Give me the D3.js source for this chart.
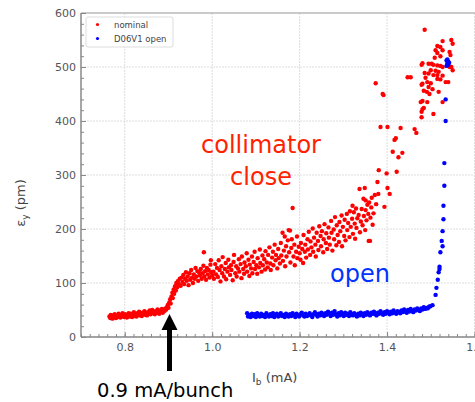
<!DOCTYPE html>
<html><head><meta charset="utf-8">
<script src="https://cdn.jsdelivr.net/npm/d3@7"></script>
<style>body{margin:0;background:#fff;}svg{display:block;font-family:"DejaVu Sans",sans-serif;}</style>
</head><body>
<svg id="c" width="475" height="402"></svg>
<script>
const xTicks = [0.8, 1.0, 1.2, 1.4, 1.6];
const yTicks = [0, 100, 200, 300, 400, 500, 600];
const seriesNames = ["nominal", "D06V1 open"];

const nominal = [
[0.765,38],[0.767,35],[0.768,41],[0.770,37],[0.772,34],[0.773,40],[0.775,36],[0.777,42],[0.779,38],[0.780,35],[0.782,40],[0.784,37],[0.786,43],[0.788,39],[0.790,36],[0.791,41],[0.793,38],[0.795,44],[0.797,40],[0.799,37],[0.801,42],[0.803,39],[0.805,36],[0.807,41],[0.809,44],[0.811,38],[0.813,40],[0.815,43],[0.817,37],[0.819,41],[0.821,46],[0.823,39],[0.825,42],[0.827,38],[0.829,44],[0.831,41],[0.833,47],[0.835,40],[0.837,43],[0.839,39],[0.841,45],[0.843,42],[0.845,48],[0.847,41],[0.849,44],[0.851,40],[0.853,46],[0.855,43],[0.857,49],[0.859,42],[0.861,45],[0.863,50],[0.865,44],[0.867,47],[0.869,42],[0.871,48],[0.873,45],[0.875,51],[0.877,46],[0.879,43],[0.881,49],[0.883,47],[0.885,52],[0.887,45],[0.889,50],[0.891,48],[0.893,53],[0.895,51],
[0.897,56],[0.899,60],[0.900,54],[0.902,64],[0.904,70],[0.905,62],[0.907,75],[0.909,82],[0.910,72],[0.912,88],[0.913,80],[0.915,94],[0.917,86],[0.918,100],[0.920,92],[0.922,104],[0.924,98],[0.926,108],[0.928,95],[0.930,110],
[0.932,102],[0.934,115],[0.936,98],[0.938,108],[0.940,120],[0.942,104],[0.944,112],[0.946,96],[0.948,118],[0.950,106],[0.952,124],[0.954,110],[0.956,100],[0.958,116],[0.960,108],[0.962,128],[0.964,112],[0.966,122],[0.968,104],[0.970,120],[0.972,114],[0.974,126],[0.976,108],[0.978,118],[0.980,132],[0.981,157],[0.982,112],[0.984,122],[0.986,106],[0.988,128],[0.990,116],[0.992,124],[0.994,110],[0.996,134],[0.997,142],[0.998,120],[1.000,114],
[1.003,121],[1.004,108],[1.007,135],[1.009,116],[1.011,128],[1.013,111],[1.015,142],[1.017,124],[1.019,103],[1.021,131],[1.023,118],[1.024,148],[1.027,112],[1.029,126],[1.031,137],[1.032,107],[1.035,121],[1.037,143],[1.038,129],[1.041,115],[1.043,133],[1.044,124],[1.047,105],[1.049,139],[1.050,152],[1.053,118],[1.055,131],[1.056,112],[1.059,127],[1.061,144],[1.062,121],[1.065,135],[1.067,109],[1.068,149],[1.071,126],[1.073,117],[1.074,138],[1.077,131],[1.079,155],[1.080,121],[1.083,143],[1.085,113],[1.086,134],[1.089,127],[1.091,149],[1.092,118],[1.095,139],[1.097,158],[1.098,126],[1.101,133],[1.103,117],[1.104,146],[1.107,129],[1.109,162],[1.110,137],[1.113,121],[1.115,151],[1.116,133],[1.119,144],[1.121,125],[1.122,159],[1.125,138],[1.127,129],[1.128,152],[1.131,166],[1.133,136],[1.134,124],[1.137,147],[1.139,158],[1.140,133],[1.143,171],[1.145,142],[1.146,152],[1.149,127],[1.151,163],[1.152,146],[1.155,136],[1.157,174],[1.158,151],[1.161,193],[1.162,141],[1.164,160],[1.166,186],[1.167,131],[1.169,168],[1.170,149],[1.173,179],[1.175,198],[1.176,157],[1.178,197],[1.179,138],[1.181,165],[1.182,181],[1.184,239],[1.186,149],[1.188,171],[1.189,133],[1.192,158],[1.194,186],[1.195,146],[1.198,167],[1.200,155],
[1.202,143],[1.203,174],[1.206,163],[1.208,137],[1.209,189],[1.212,158],[1.213,171],[1.215,147],[1.218,181],[1.219,162],[1.221,195],[1.224,152],[1.225,177],[1.227,166],[1.230,201],[1.231,158],[1.233,184],[1.236,171],[1.237,149],[1.239,193],[1.242,178],[1.243,161],[1.245,205],[1.248,187],[1.249,168],[1.251,196],[1.254,157],[1.255,181],[1.257,209],[1.260,174],[1.261,192],[1.263,163],[1.266,203],[1.267,184],[1.269,171],[1.272,215],[1.273,193],[1.275,160],[1.278,199],[1.279,181],[1.281,222],[1.284,170],[1.285,207],[1.287,189],[1.290,176],[1.291,213],[1.293,196],[1.296,225],[1.297,168],[1.299,204],[1.302,187],[1.303,217],[1.305,179],[1.308,228],[1.309,198],[1.311,211],[1.314,185],[1.315,233],[1.317,204],[1.320,219],[1.321,243],[1.322,191],[1.324,231],[1.326,210],[1.327,182],[1.329,238],[1.330,202],[1.332,220],[1.335,226],[1.337,274],[1.338,194],[1.340,214],[1.342,237],[1.344,207],[1.346,256],[1.347,224],[1.349,276],[1.350,198],[1.351,235],[1.351,253],[1.353,216],[1.355,245],[1.357,228],[1.358,178],[1.359,249],[1.361,178],[1.362,221],[1.364,240],[1.365,258],[1.367,208],[1.369,229],[1.372,263],[1.375,246],[1.380,265],
[1.378,287],[1.381,309],[1.399,303],[1.401,276],[1.406,265],[1.394,241],[1.413,343],[1.417,365],[1.422,306],[1.426,333],[1.435,341],[1.385,389],[1.401,389],[1.431,387],[1.463,385],[1.467,378],[1.420,368],[1.374,470],[1.390,450],[1.392,448],[1.447,481],[1.454,481],
[1.486,569],[1.527,548],[1.547,550],[1.550,543],[1.515,539],[1.522,537],[1.527,531],[1.511,531],[1.515,526],[1.543,528],[1.545,522],[1.522,520],[1.509,517],[1.481,507],[1.479,504],[1.495,506],[1.502,506],[1.506,504],[1.515,503],[1.522,502],[1.527,500],[1.547,500],[1.543,500],[1.550,494],[1.500,494],[1.511,493],[1.518,491],[1.486,489],[1.495,488],[1.506,485],[1.515,485],[1.527,484],[1.488,480],[1.515,478],[1.522,477],[1.492,472],[1.500,470],[1.481,469],[1.479,467],[1.540,472],[1.534,472],[1.495,463],[1.504,459],[1.484,456],[1.518,454],[1.491,454],[1.497,450],[1.481,437],[1.492,435],[1.527,435],[1.484,424],[1.481,422],[1.479,417],[1.479,407],[1.506,413],[1.477,435]
];

const open = [
[1.080,44],[1.082,38],[1.085,41],[1.088,37],[1.091,43],[1.094,39],[1.097,42],[1.100,37],[1.103,44],[1.106,40],[1.109,38],[1.112,43],[1.115,39],[1.118,41],[1.121,37],[1.124,44],[1.127,40],[1.130,38],[1.133,42],[1.136,39],[1.139,44],[1.142,37],[1.145,41],[1.148,43],[1.151,38],[1.154,40],[1.157,44],[1.160,39],[1.163,41],[1.166,37],[1.169,43],[1.172,40],[1.175,38],[1.178,42],[1.181,39],[1.184,44],[1.187,41],[1.190,37],[1.193,43],[1.196,40],[1.199,38],[1.202,42],[1.205,45],[1.208,40],[1.211,38],[1.214,43],[1.217,39],[1.220,41],[1.223,44],[1.226,40],[1.229,37],[1.232,42],[1.235,46],[1.238,41],[1.241,38],[1.244,43],[1.247,40],[1.250,45],[1.253,42],[1.256,39],[1.259,44],[1.262,41],[1.265,47],[1.268,43],[1.271,39],[1.274,45],[1.277,41],[1.280,48],[1.283,42],[1.286,38],[1.289,44],[1.292,40],[1.295,46],[1.298,42],[1.301,39],[1.304,45],[1.307,41],[1.310,43],[1.313,39],[1.316,46],[1.319,42],[1.322,40],[1.325,44],[1.328,41],[1.331,38],[1.334,43],[1.337,40],[1.340,45],[1.343,42],[1.346,39],[1.349,44],[1.352,41],[1.355,46],[1.358,42],[1.361,40],[1.364,45],[1.367,43],[1.370,47],[1.373,42],[1.376,40],[1.379,45],[1.382,43],[1.385,48],[1.388,44],[1.391,41],[1.394,46],[1.397,43],[1.400,48],[1.403,45],[1.406,42],[1.409,47],[1.412,44],[1.415,49],[1.418,45],[1.421,43],[1.424,48],[1.427,46],[1.430,44],[1.433,49],[1.436,46],[1.439,51],[1.442,47],[1.445,45],[1.448,50],[1.451,47],[1.454,52],[1.457,48],[1.460,46],[1.463,51],[1.466,49],[1.469,53],[1.472,50],[1.475,48],[1.478,53],[1.481,51],[1.484,55],[1.487,52],[1.490,54],[1.493,53],[1.496,56],
[1.499,57],[1.504,59],[1.511,78],[1.513,91],[1.516,106],[1.518,120],[1.520,126],[1.520,130],[1.522,157],[1.525,178],[1.527,168],[1.527,196],[1.529,218],[1.529,243],[1.531,280],[1.531,322],[1.534,400],[1.534,440],[1.536,502],[1.538,507],[1.540,510],[1.536,512],[1.540,504],[1.538,514],[1.542,508]
];

const svg = d3.select("#c");
const L = 81, R = 474.5, T = 13, B = 337;
const x = d3.scaleLinear().domain([0.7, 1.6]).range([L, R]);
const y = d3.scaleLinear().domain([0, 600]).range([B, T]);

// grid
const grid = svg.append("g");
grid.selectAll(".gx").data(xTicks).join("line")
  .attr("x1", d => x(d)).attr("x2", d => x(d)).attr("y1", T).attr("y2", B)
  .attr("stroke", "#ddd").attr("stroke-width", 1).attr("stroke-dasharray", "2,1");
grid.selectAll(".gy").data(yTicks).join("line")
  .attr("x1", L).attr("x2", R).attr("y1", d => y(d)).attr("y2", d => y(d))
  .attr("stroke", "#ddd").attr("stroke-width", 1).attr("stroke-dasharray", "2,1");

// frame top
svg.append("line").attr("x1", L).attr("x2", R + 5).attr("y1", T).attr("y2", T).attr("stroke", "#bbb").attr("stroke-width", 1.5);

// axes
const minorX = d3.range(0.70, 1.601, 0.02);
const minorY = d3.range(0, 601, 20);
const xAxisMinor = d3.axisBottom(x).tickValues(minorX).tickSize(-3).tickFormat("");
const yAxisMinor = d3.axisLeft(y).tickValues(minorY).tickSize(-3).tickFormat("");
svg.append("g").attr("transform", `translate(0,${B})`).call(xAxisMinor)
  .call(g => g.select(".domain").remove()).selectAll("line").attr("stroke", "#888");
svg.append("g").attr("transform", `translate(${L},0)`).call(yAxisMinor)
  .call(g => g.select(".domain").remove()).selectAll("line").attr("stroke", "#888");

const xAxis = d3.axisBottom(x).tickValues(xTicks).tickSize(-5).tickPadding(6).tickFormat(d3.format(".1f"));
const yAxis = d3.axisLeft(y).tickValues(yTicks).tickSize(-5).tickPadding(5).tickFormat(d3.format("d"));
const gx = svg.append("g").attr("transform", `translate(0,${B})`).call(xAxis);
const gy = svg.append("g").attr("transform", `translate(${L},0)`).call(yAxis);
[gx, gy].forEach(g => {
  g.select(".domain").attr("stroke", "#888").attr("stroke-width", 1.5);
  g.selectAll(".tick line").attr("stroke", "#888");
  g.selectAll("text").attr("fill", "#555").attr("font-size", 11).attr("font-family", "DejaVu Sans");
});
gx.select(".domain").attr("d", `M${L},0H${R + 5}`);
gy.select(".domain").attr("d", `M0,${B}V${T}`);

// data
svg.append("g").selectAll("circle").data(nominal).join("circle")
  .attr("cx", d => x(d[0])).attr("cy", d => y(d[1])).attr("r", 2.2).attr("fill", "#ff0000");
svg.append("g").selectAll("circle").data(open).join("circle")
  .attr("cx", d => x(d[0])).attr("cy", d => y(d[1])).attr("r", 2.2).attr("fill", "#0000ff");

// legend
const lg = svg.append("g");
lg.append("rect").attr("x", 86).attr("y", 17).attr("width", 87).attr("height", 30).attr("rx", 2)
  .attr("fill", "#fff").attr("fill-opacity", 0.85).attr("stroke", "#ddd");
const lcol = ["#ff0000", "#0000ff"];
seriesNames.forEach((n, i) => {
  lg.append("circle").attr("cx", 97.5).attr("cy", 24.5 + i * 14).attr("r", 1.6).attr("fill", lcol[i]);
  lg.append("text").attr("x", 114).attr("y", 27.5 + i * 14).attr("font-size", 8.5).attr("fill", "#444").text(n);
});

// axis labels
const yl = svg.append("text").attr("transform", "translate(25,203) rotate(-90)").attr("text-anchor", "middle")
  .attr("font-size", 13).attr("fill", "#444");
yl.append("tspan").text("ε");
yl.append("tspan").attr("font-size", 9).attr("dy", 3).text("y");
yl.append("tspan").attr("dy", -3).text(" (pm)");

const xl = svg.append("text").attr("x", 252).attr("y", 382).attr("font-size", 13).attr("fill", "#444");
xl.append("tspan").text("I");
xl.append("tspan").attr("font-size", 9).attr("dy", 3).text("b");
xl.append("tspan").attr("dy", -3).text(" (mA)");

// annotations
svg.append("text").attr("x", 261).attr("y", 153).attr("text-anchor", "middle").attr("font-size", 24)
  .attr("fill", "#ff2200").text("collimator");
svg.append("text").attr("x", 261).attr("y", 185).attr("text-anchor", "middle").attr("font-size", 24)
  .attr("fill", "#ff2200").text("close");
svg.append("text").attr("x", 360).attr("y", 282).attr("text-anchor", "middle").attr("font-size", 24)
  .attr("fill", "#0033ff").text("open");
svg.append("text").attr("x", 97).attr("y", 397).attr("font-size", 19.5)
  .attr("fill", "#000").text("0.9 mA/bunch");

// arrow
svg.append("path").attr("d", "M167,371 L167,330 L161.5,330 L169.5,314 L177.5,330 L172,330 L172,371 Z").attr("fill", "#000");
</script>
</body></html>
